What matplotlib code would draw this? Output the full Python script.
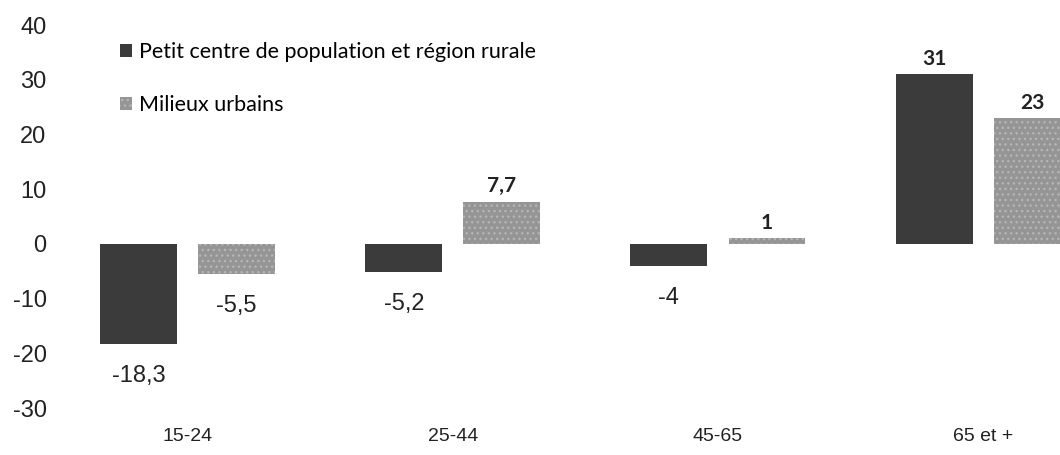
import numpy as np
import matplotlib.pyplot as plt

categories = ['15-24', '25-44', '45-65', '65 et +']
rural = [-18.3, -5.2, -4, 31]
urbain = [-5.5, 7.7, 1, 23]
series_names = ['Petit centre de population et région rurale', 'Milieux urbains']
yticks = [-30, -20, -10, 0, 10, 20, 30, 40]

plt.rcParams['font.family'] = ['Liberation Sans', 'DejaVu Sans']

fig = plt.figure(figsize=(10.6, 4.55), dpi=100)
ax = fig.add_axes([0.057, 0.103, 0.943, 0.842])

x = np.arange(len(categories))
w = 0.29
off = 0.185
b1 = ax.bar(x - off, rural, w, color='#3b3b3b', label=series_names[0])
b2 = ax.bar(x + off, urbain, w, color='#959595', label=series_names[1],
            hatch='...', edgecolor='#b5b5b5', linewidth=0)

def fmt(v):
    s = f'{v:g}'
    return s.replace('.', ',')

# étiquettes de données
for bars, vals in [(b1, rural), (b2, urbain)]:
    for rect, v in zip(bars, vals):
        cx = rect.get_x() + rect.get_width() / 2
        if v < 0:
            ax.annotate(fmt(v), (cx, v), xytext=(0, -15), textcoords='offset points',
                        ha='center', va='top', fontsize=17, color='#222222')
        else:
            ax.annotate(fmt(v), (cx, v), xytext=(0, 4), textcoords='offset points',
                        ha='center', va='bottom', fontsize=15, color='#222222',
                        family=['Lato', 'DejaVu Sans'], fontweight='bold')

ax.set_xlim(-0.48, 3.29)
ax.set_ylim(-30, 40)
ax.set_yticks(yticks)
ax.set_yticklabels([str(t) for t in yticks], fontsize=17, color='#222222')
ax.set_xticks(x)
ax.set_xticklabels(categories, fontsize=14, color='#222222')
ax.tick_params(axis='y', length=0, pad=10)
ax.tick_params(axis='x', length=0, pad=14)
for s in ax.spines.values():
    s.set_visible(False)

ax.legend(loc='upper left', bbox_to_anchor=(0.04, 1.005), frameon=False,
          handlelength=0.55, handleheight=0.55, handletextpad=0.35,
          labelspacing=1.5, prop={'family': ['Lato', 'DejaVu Sans'], 'size': 15.5})

fig.savefig('out.png', dpi=100)
